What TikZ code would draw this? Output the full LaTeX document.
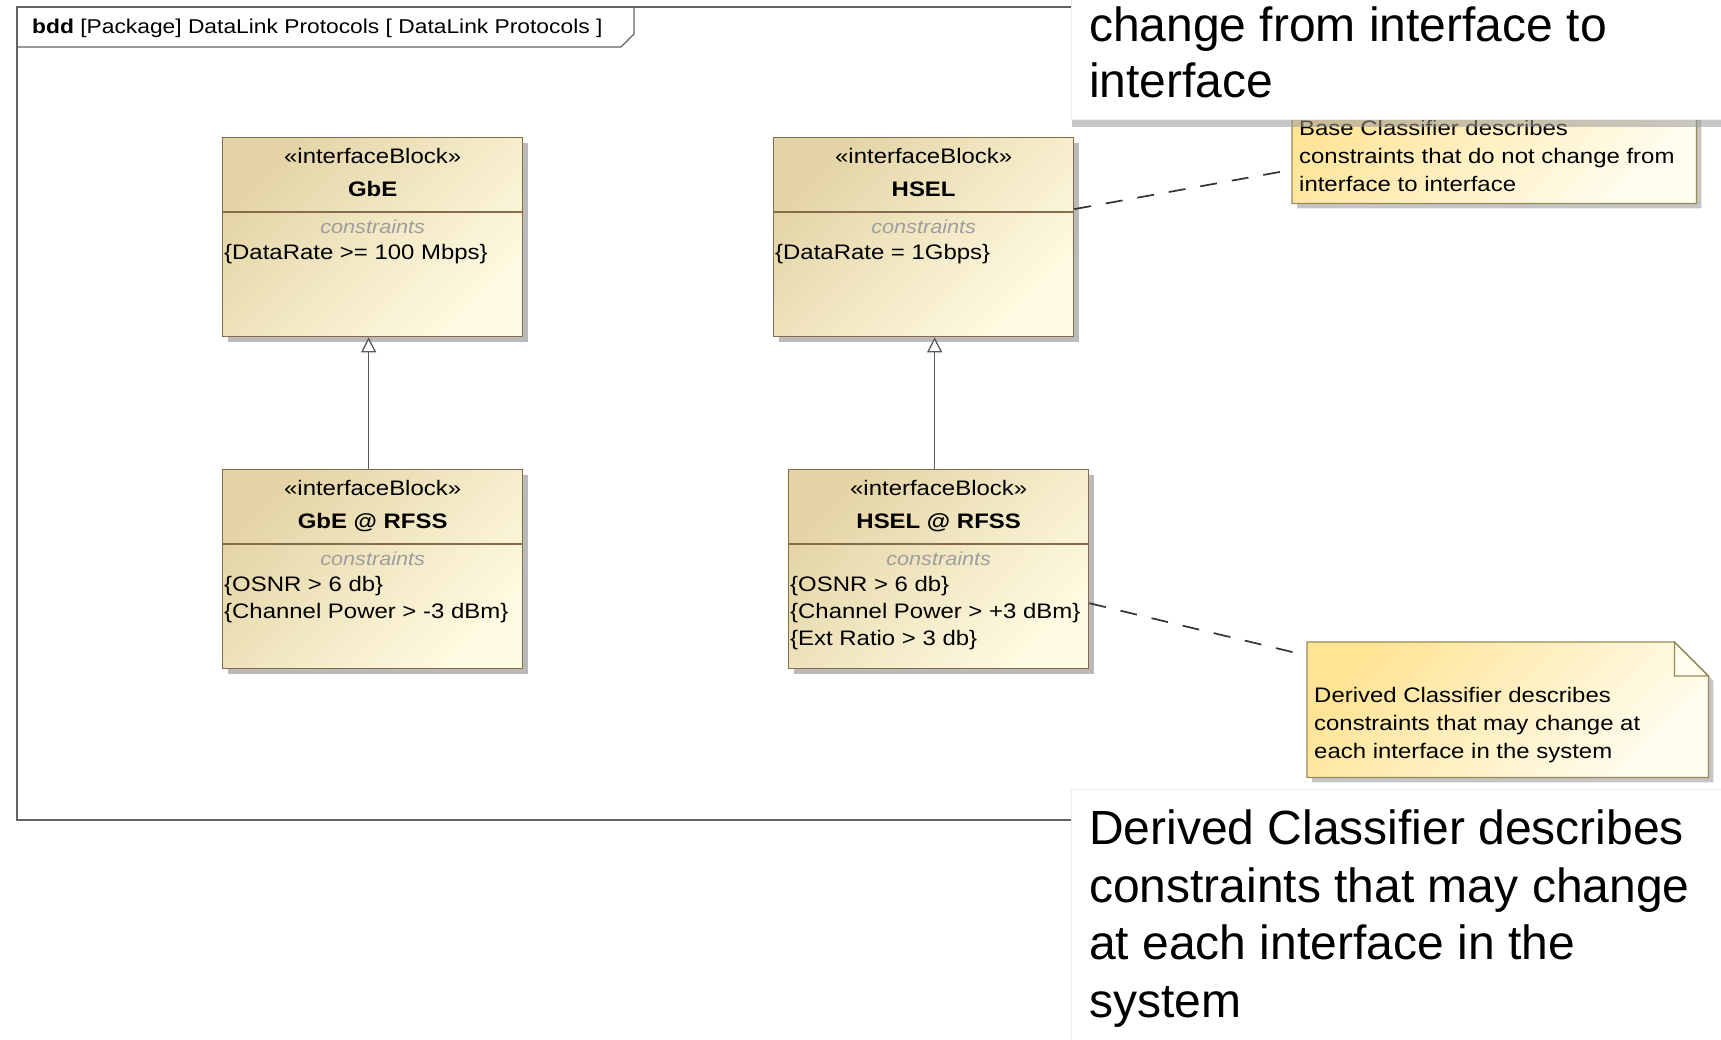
\documentclass[tikz,border=0pt]{standalone}
\usepackage{fontspec}
\setmainfont{Liberation Sans}[FakeStretch=1.14]
\newfontfamily\popupfont{Liberation Sans}
\usetikzlibrary{positioning,calc,shadows,arrows.meta}

\definecolor{blockedge}{RGB}{135,108,76}
\definecolor{blocktop}{RGB}{228,212,165}
\definecolor{blockbot}{RGB}{255,251,226}
\definecolor{noteedge}{RGB}{150,138,88}
\definecolor{notetop}{RGB}{255,228,150}
\definecolor{notebot}{RGB}{255,253,240}
\definecolor{framegray}{RGB}{100,100,100}

\begin{document}
\begin{tikzpicture}[
        x=1pt, y=-1pt,
        font=\fontsize{21}{27}\selectfont,
        block/.style={draw=blockedge, line width=1.3pt, top color=blocktop, bottom color=blockbot, shading angle=45,
            minimum width=300pt, minimum height=199pt, inner sep=0pt, anchor=north west,
            drop shadow={shadow xshift=5pt, shadow yshift=-5pt, fill=black!45, opacity=0.6}},
        sepline/.style={draw=blockedge, line width=1.3pt},
        stereo/.style={inner sep=0pt, anchor=base},
        blockname/.style={inner sep=0pt, anchor=base, font=\fontsize{21}{27}\selectfont\bfseries},
        compart/.style={inner sep=0pt, anchor=base, text=black!38, font=\fontsize{19}{27}\selectfont\itshape},
        constr/.style={inner sep=0pt, anchor=north west, align=left},
        note/.style={inner sep=0pt, anchor=north west},
        notefill/.style={draw=noteedge, line width=1.3pt, top color=notetop, bottom color=notebot, shading angle=45,
            drop shadow={shadow xshift=5pt, shadow yshift=-5pt, fill=black!45, opacity=0.5}},
        notefold/.style={draw=noteedge, line width=1.3pt, fill=notebot},
        notetext/.style={inner sep=0pt, anchor=north west, align=left, font=\fontsize{21}{28}\selectfont},
        generalize/.style={draw=black!65, line width=1.3pt, -{Triangle[open, length=15pt, width=15pt, fill=white]}},
        notelink/.style={draw=black!80, line width=1.7pt, dash pattern=on 17pt off 15pt},
        popup/.style={fill=white, draw=black!7, line width=1pt, inner sep=0pt, anchor=north west},
        popuptext/.style={inner sep=0pt, anchor=north west, align=left, font=\popupfont\fontsize{48}{56}\selectfont},
    ]
    \useasboundingbox (0,0) rectangle (1721,1039);
    \clip (0,0) rectangle (1721,1039);

    \draw[framegray, line width=1.5pt] (1760,7) -- (17,7) -- (17,820) -- (1760,820);
    \draw[framegray, line width=1.3pt] (17,47) -- (621,47) -- (634,34) -- (634,7);
    \node[inner sep=0pt, anchor=base west, font=\fontsize{20}{27}\selectfont] (frametitle) at (32,33)
        {\textbf{bdd} [Package] DataLink Protocols [ DataLink Protocols ]};

    \node[block] (gbe) at (222,137) {};
    \node[block] (hsel) at (773,137) {};
    \node[block] (gberfss) at (222,469) {};
    \node[block] (hselrfss) at (788,469) {};

    \foreach \blk/\title in {gbe/GbE, hsel/HSEL, gberfss/GbE @ RFSS, hselrfss/HSEL @ RFSS} {
        \draw[sepline] ([yshift=-75pt]\blk.north west) -- ([yshift=-75pt]\blk.north east);
        \node[stereo] (\blk-st) at ([yshift=-26pt]\blk.north) {«interfaceBlock»};
        \node[blockname] (\blk-nm) at ([yshift=-59pt]\blk.north) {\title};
        \node[compart] (\blk-cp) at ([yshift=-96pt]\blk.north) {constraints};
    }

    \node[constr] (gbe-c) at ([xshift=2pt,yshift=-107pt]gbe.north west) {\{DataRate >= 100 Mbps\}};
    \node[constr] (hsel-c) at ([xshift=2pt,yshift=-107pt]hsel.north west) {\{DataRate = 1Gbps\}};
    \node[constr] (gberfss-c) at ([xshift=2pt,yshift=-107pt]gberfss.north west)
        {\{OSNR > 6 db\}\\\{Channel Power > -3 dBm\}};
    \node[constr] (hselrfss-c) at ([xshift=2pt,yshift=-107pt]hselrfss.north west)
        {\{OSNR > 6 db\}\\\{Channel Power > +3 dBm\}\\\{Ext Ratio > 3 db\}};

    \draw[generalize] ([xshift=-4pt]gberfss.north) -- ([xshift=-4pt]gbe.south);
    \draw[generalize] ([xshift=-4pt]hselrfss.north) -- ([xshift=-4pt]hselrfss.north |- hsel.south);

    \node[note, minimum width=404pt, minimum height=129pt] (bnote) at (1292,74) {};
    \node[note, minimum width=401pt, minimum height=135pt] (dnote) at (1307,642) {};
    \foreach \nt in {bnote, dnote} {
        \path[notefill] (\nt.north west) -- ([xshift=-34pt]\nt.north east) -- ([yshift=-34pt]\nt.north east)
            -- (\nt.south east) -- (\nt.south west) -- cycle;
        \draw[notefold] ([xshift=-34pt]\nt.north east) -- ([xshift=-34pt,yshift=-34pt]\nt.north east)
            -- ([yshift=-34pt]\nt.north east) -- cycle;
    }
    \node[notetext] (bnote-t) at ([xshift=7pt,yshift=-46pt]bnote.north west)
        {Base Classifier describes\\constraints that do not change from\\interface to interface};
    \node[notetext] (dnote-t) at ([xshift=7pt,yshift=-45pt]dnote.north west)
        {Derived Classifier describes\\constraints that may change at\\each interface in the system};

    \draw[notelink] ($(hsel.north east)!0.36!(hsel.south east)$) -- ($(bnote.north west)!0.74!(bnote.south west)$);
    \draw[notelink] ($(hselrfss.north east)!0.67!(hselrfss.south east)$) -- ($(dnote.north west)!0.1!(dnote.south west)$);

    \node[popup, minimum width=660pt, minimum height=126pt,
        drop shadow={shadow xshift=0pt, shadow yshift=-7pt, fill=black!40, opacity=0.55}] (toppop) at (1071,-7) {};
    \node[popuptext] (toppop-t) at (1089,7) {change from interface to\\interface};
    \node[popup, minimum width=660pt, minimum height=260pt] (botpop) at (1071,789) {};
    \node[popuptext, font=\popupfont\fontsize{48}{57.5}\selectfont] (botpop-t) at (1089,810)
        {Derived Classifier describes\\constraints that may change\\at each interface in the\\system};
\end{tikzpicture}
\end{document}
